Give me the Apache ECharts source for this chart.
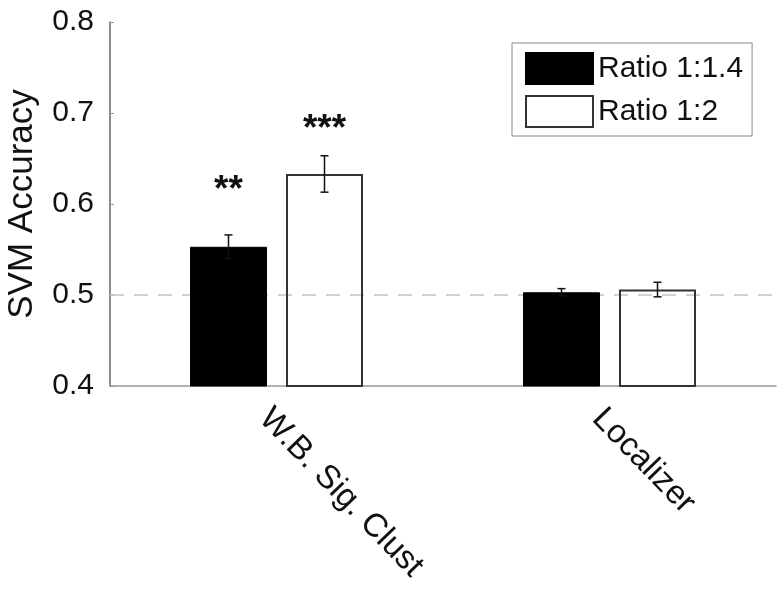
<!DOCTYPE html>
<html>
<head>
<meta charset="utf-8">
<script src="https://cdn.jsdelivr.net/npm/echarts@6/dist/echarts.min.js"></script>
<style>
  html, body { margin: 0; padding: 0; background: #fff; }
  #chart { width: 784px; height: 595px; }
</style>
</head>
<body>
<div id="chart"></div>
<script>
var categories = ['W.B. Sig. Clust', 'Localizer']
var seriesNames = ['Ratio 1:1.4', 'Ratio 1:2']
var ratio14 = [0.553, 0.503]
var ratio2 = [0.633, 0.506]
var err14 = [0.013, 0.004]
var err2 = [0.020, 0.008]
var stars14 = ['**', '']
var stars2 = ['***', '']
var starY14 = [0.615, 0]
var starY2 = [0.681, 0]
var chanceLevel = 0.5
var yTicks = [0.4, 0.5, 0.6, 0.7, 0.8]

var font = 'Liberation Sans, Arial, sans-serif'
var barW = 77
var gap = 19
var offsets = [-(barW + gap) / 2, (barW + gap) / 2]

function errData(vals, errs) {
  return vals.map(function (v, i) { return [i, v - errs[i], v + errs[i]] })
}
function starData(ys, labels) {
  return ys.map(function (y, i) { return [i, y, labels[i]] })
}

function errRender(k) {
  return function (params, api) {
    var lo = api.coord([api.value(0), api.value(1)])
    var hi = api.coord([api.value(0), api.value(2)])
    var x = lo[0] + offsets[k]
    var cap = 4
    var st = { stroke: '#111', lineWidth: 1.5 }
    return {
      type: 'group',
      children: [
        { type: 'line', shape: { x1: x, y1: lo[1], x2: x, y2: hi[1] }, style: st },
        { type: 'line', shape: { x1: x - cap, y1: lo[1], x2: x + cap, y2: lo[1] }, style: st },
        { type: 'line', shape: { x1: x - cap, y1: hi[1], x2: x + cap, y2: hi[1] }, style: st }
      ]
    }
  }
}

function starRender(k) {
  return function (params, api) {
    var p = api.coord([api.value(0), api.value(1)])
    return {
      type: 'text',
      x: p[0] + offsets[k],
      y: p[1],
      style: {
        text: api.value(2),
        font: 'bold 37px ' + font,
        fill: '#111',
        align: 'center',
        verticalAlign: 'middle'
      }
    }
  }
}

var option = {
  animation: false,
  grid: { left: 110, right: 8, top: 22, bottom: 209, outerBoundsMode: 'none', containLabel: false },
  legend: {
    orient: 'vertical',
    left: 512,
    top: 43,
    padding: [9, 9, 8, 13],
    itemWidth: 67,
    itemHeight: 31,
    itemGap: 10,
    icon: 'rect',
    borderColor: '#888',
    borderWidth: 1,
    data: seriesNames,
    textStyle: { fontSize: 30, fontFamily: font, color: '#111' }
  },
  xAxis: {
    type: 'category',
    data: categories,
    axisLine: { lineStyle: { color: '#999', width: 1.5 } },
    axisTick: { inside: true, length: 5, alignWithLabel: true, lineStyle: { color: '#777' } },
    axisLabel: {
      rotate: -46, fontSize: 33, fontFamily: font, color: '#111',
      margin: 16, verticalAlign: 'top'
    }
  },
  yAxis: {
    type: 'value',
    name: 'SVM Accuracy',
    nameLocation: 'middle',
    nameGap: 70,
    nameTextStyle: { fontSize: 35, fontFamily: font, color: '#111' },
    min: yTicks[0],
    max: yTicks[yTicks.length - 1],
    interval: 0.1,
    axisLine: { show: true, lineStyle: { color: '#666', width: 1.5 } },
    axisTick: { show: true, inside: true, length: 4, lineStyle: { color: '#999' } },
    splitLine: { show: false },
    axisLabel: {
      fontSize: 30, fontFamily: font, color: '#111', margin: 16,
      formatter: function (v) { return v.toFixed(1) }
    }
  },
  series: [
    {
      name: seriesNames[0],
      type: 'bar',
      data: ratio14,
      barWidth: barW,
      barGap: (gap / barW * 100) + '%',
      itemStyle: { color: '#000', borderColor: '#000', borderWidth: 1 },
      z: 3,
      markLine: {
        silent: true,
        symbol: 'none',
        label: { show: false },
        lineStyle: { color: '#c4c4c4', type: [14, 10], width: 1.5 },
        data: [{ yAxis: chanceLevel }],
        z: 1
      }
    },
    {
      name: seriesNames[1],
      type: 'bar',
      data: ratio2,
      barWidth: barW,
      itemStyle: { color: 'rgba(255,255,255,0)', borderColor: '#333', borderWidth: 2 },
      z: 3
    },
    { type: 'custom', data: errData(ratio14, err14), renderItem: errRender(0), z: 5 },
    { type: 'custom', data: errData(ratio2, err2), renderItem: errRender(1), z: 5 },
    { type: 'custom', data: starData(starY14, stars14), renderItem: starRender(0), z: 6 },
    { type: 'custom', data: starData(starY2, stars2), renderItem: starRender(1), z: 6 }
  ]
}

var chart = echarts.init(document.getElementById('chart'))
chart.setOption(option)
window.addEventListener('resize', function () { chart.resize() })
</script>
</body>
</html>
